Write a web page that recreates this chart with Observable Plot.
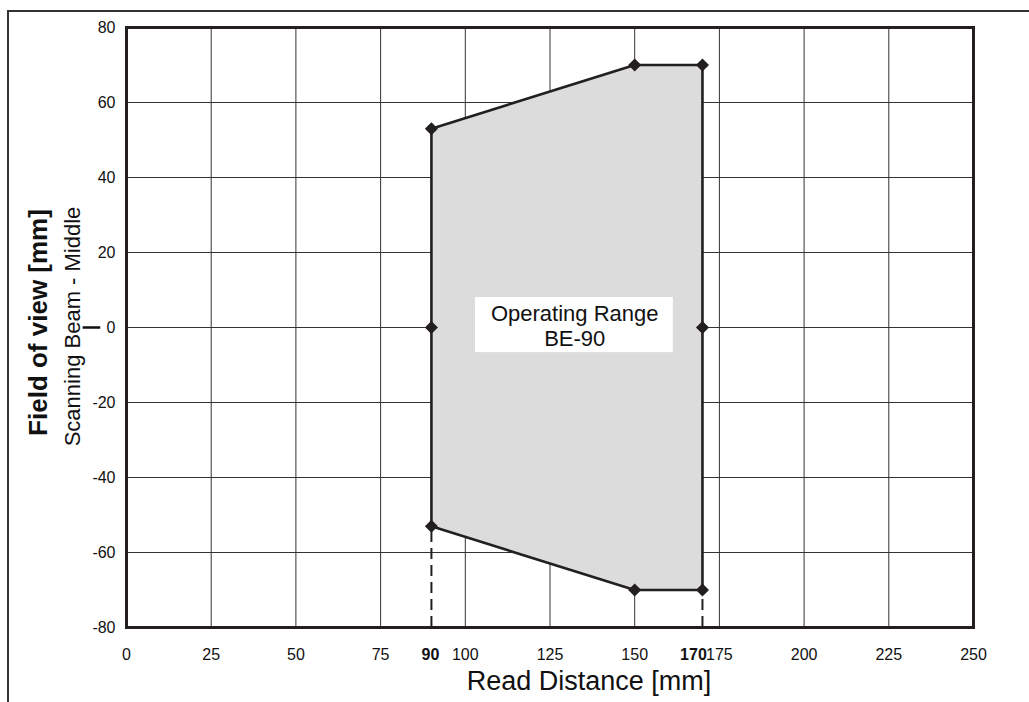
<!DOCTYPE html>
<html>
<head>
<meta charset="utf-8">
<script src="https://cdn.jsdelivr.net/npm/d3@7"></script>
<script src="https://cdn.jsdelivr.net/npm/@observablehq/plot@0.6"></script>
<style>
  html, body { margin: 0; padding: 0; background: #fff; }
  #wrap { position: relative; width: 1029px; height: 702px; overflow: hidden; background: #fff; }
  #border { position: absolute; left: 7px; top: 10px; width: 1040px; height: 720px; z-index: 2;
            border-top: 2px solid #333; border-left: 2px solid #333; box-sizing: border-box; pointer-events: none; }
  #chart { position: absolute; left: 0; top: 0; z-index: 1; }
</style>
</head>
<body>
<div id="wrap"><div id="chart"></div><div id="border"></div></div>
<script>
// Polygon vertices of the operating range (Read distance mm, field of view mm)
const vertexX = [90, 150, 170, 170, 170, 150, 90, 90, 90];
const vertexY = [53, 70, 70, 0, -70, -70, -53, 0, 53];
// Marker points (diamonds)
const markerX = [90, 150, 170, 170, 170, 150, 90, 90];
const markerY = [53, 70, 70, 0, -70, -70, -53, 0];
// Dashed drop lines
const dropX = [90, 170];
const dropTop = [-53, -70];
// Ticks
const xTicks = [0, 25, 50, 75, 100, 125, 150, 175, 200, 225, 250];
const yTicks = [-80, -60, -40, -20, 0, 20, 40, 60, 80];
const xGrid = [25, 50, 75, 100, 125, 150, 175, 200, 225];
const yGrid = [-60, -40, -20, 0, 20, 40, 60];
const boldTicks = [90, 170];
// Middle marker beside the 0 label (in read-distance units, left of the axis)
const middleMark = {y: 0, x1: -12.8, x2: -7.6};
// Label box
const labelText = "Operating Range\nBE-90";
const labelBox = {x1: 103, x2: 161.4, y1: -6.7, y2: 8};
const labelPos = {x: 132.3, y: 0.6};

const markers = markerX.map((x, i) => ({x, y: markerY[i]}));
const poly = vertexX.map((x, i) => ({x, y: vertexY[i]}));
const drops = dropX.map((x, i) => ({x, y1: -80, y2: dropTop[i]}));

const ink = "#231f20";

const chart = Plot.plot({
  width: 1029,
  height: 702,
  marginLeft: 126,
  marginRight: 56,
  marginTop: 27,
  marginBottom: 75,
  style: {fontFamily: "'Liberation Sans', Arial, sans-serif", fontSize: "16px", background: "transparent", color: "#111"},
  x: {domain: [0, 250]},
  y: {domain: [-80, 80]},
  marks: [
    Plot.ruleX(xGrid, {stroke: "#333", strokeWidth: 1}),
    Plot.ruleY(yGrid, {stroke: "#333", strokeWidth: 1}),
    Plot.line(poly, {x: "x", y: "y", fill: "#dcdcdc", stroke: ink, strokeWidth: 2.6, strokeLinejoin: "miter", curve: "linear"}),
    Plot.ruleX(drops, {x: "x", y1: "y1", y2: "y2", stroke: ink, strokeWidth: 2, strokeDasharray: "11,6"}),
    Plot.rect([labelBox], {x1: "x1", x2: "x2", y1: "y1", y2: "y2", fill: "#fff"}),
    Plot.text([labelText], {x: () => labelPos.x, y: () => labelPos.y, text: d => d, fontSize: 22, lineHeight: 1.14, fill: "#111"}),
    Plot.dot(markers, {x: "x", y: "y", symbol: "diamond2", r: 5.9, fill: ink, stroke: "none"}),
    Plot.frame({stroke: ink, strokeWidth: 3}),
    Plot.axisX({ticks: xTicks, tickSize: 0, tickPadding: 21, tickFormat: d => String(d), label: null, fontSize: 16}),
    Plot.axisY({ticks: yTicks, tickSize: 0, tickPadding: 11, tickFormat: d => String(d), label: null, fontSize: 16}),
    Plot.text([boldTicks[0]], {x: d => d, frameAnchor: "bottom", dy: 32, dx: -1, text: d => String(d), fontWeight: "bold", fontSize: 16}),
    Plot.text([boldTicks[1]], {x: d => d, frameAnchor: "bottom", dy: 32, dx: -9, text: d => String(d), fontWeight: "bold", fontSize: 16}),
    Plot.ruleY([middleMark], {y: "y", x1: "x1", x2: "x2", stroke: "#111", strokeWidth: 2.5, clip: false}),
    Plot.text(["Read Distance [mm]"], {frameAnchor: "bottom", dx: 39, dy: 62, fontSize: 27, text: d => d, fill: "#111"}),
    Plot.text(["Field of view [mm]"], {frameAnchor: "left", textAnchor: "middle", rotate: -90, dx: -88, dy: -5, fontSize: 26, fontWeight: "bold", text: d => d, fill: "#111"}),
    Plot.text(["Scanning Beam - Middle"], {frameAnchor: "left", textAnchor: "middle", rotate: -90, dx: -54, dy: -1, fontSize: 22, text: d => d, fill: "#111"})
  ]
});
document.getElementById("chart").appendChild(chart);
</script>
</body>
</html>
